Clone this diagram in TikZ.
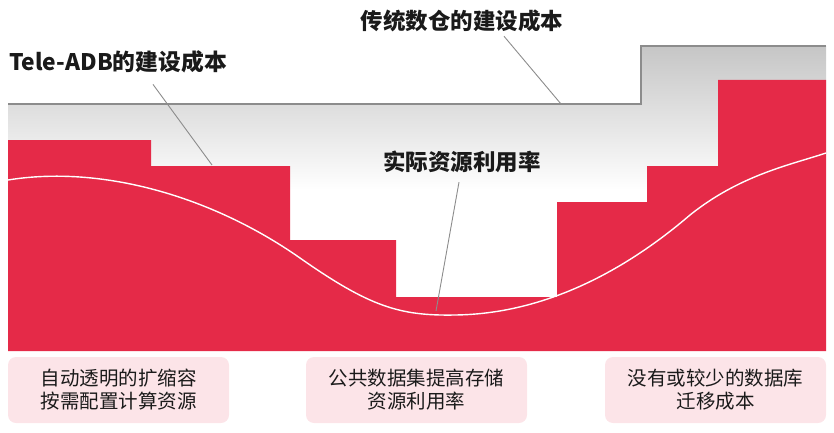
\documentclass[tikz,border=0pt]{standalone}
\usepackage{fontspec}
\newfontfamily\cjk{Noto Sans CJK SC}
\definecolor{costred}{HTML}{E52A48}
\definecolor{notepink}{HTML}{FCE4E8}
\definecolor{stepgray}{HTML}{8C8C8C}
\definecolor{inkblack}{HTML}{1A1A1A}
\tikzset{
	heading/.style={font=\cjk\bfseries\fontsize{22.5}{26}\selectfont, text=inkblack, inner sep=0pt},
	leader/.style={draw=stepgray, line width=0.9pt},
	notebox/.style={fill=notepink, rounded corners=8pt, minimum width=221pt, minimum height=66pt,
		align=center, inner sep=0pt, font=\cjk\fontsize{19.5}{23}\selectfont, text=inkblack}
}
\begin{document}
\begin{tikzpicture}[x=1pt,y=-1pt]
			\useasboundingbox (0,0) rectangle (834,433);

			% gray band of the traditional cost
			\shade[top color=gray!45, bottom color=white]
					(8,104) -- (641,104) -- (641,46) -- (826,46) -- (826,190) -- (8,190) -- cycle;

			% red steps of the Tele-ADB cost
			\fill[costred]	(8,351) -- (8,140) -- (151,140) -- (151,166) -- (290,166) -- (290,240)
					-- (396,240) -- (396,297) -- (557,297) -- (557,202) -- (647,202) -- (647,166)
					-- (718,166) -- (718,80) -- (826,80) -- (826,351) -- cycle;

			% outline of the traditional cost
			\draw[stepgray, line width=2pt]	(8,104) -- (641,104) -- (641,46) -- (826,46);

			% real resource usage
			\draw[white, line width=1.4pt]	(8,180) .. controls (100,165) and (210,195) .. (300,258)
					.. controls (370,307) and (400,316) .. (455,315)
					.. controls (540,314) and (620,275) .. (690,215)
					.. controls (740,175) and (790,165) .. (826,153);

			% labels
			\node[heading] (dwcost) at (462,21) {传统数仓的建设成本};
			\node[heading, font=\cjk\bfseries\fontsize{22.8}{26}\selectfont] (telecost) at (118,62) {Tele-ADB的建设成本};
			\node[heading] (realuse) at (462,162) {实际资源利用率};

			% leader lines
			\coordinate (dwhit) at (561,104);
			\coordinate (telehit) at (212,165);
			\coordinate (realhit) at (436,311);
			\draw[leader]	([xshift=42pt, yshift=-4pt]dwcost.south) -- (dwhit);
			\draw[leader]	([xshift=35pt, yshift=-11pt]telecost.south) -- (telehit);
			\draw[leader]	([xshift=-3pt, yshift=-9pt]realuse.south) -- (realhit);

			% notes
			\node[notebox] (autoscale) at (118.5,390) {自动透明的扩缩容\\按需配置计算资源};
			\node[notebox] (shareddata) at (416.5,390) {公共数据集提高存储\\资源利用率};
			\node[notebox] (nomigrate) at (715.5,390) {没有或较少的数据库\\迁移成本};
		\end{tikzpicture}
\end{document}
